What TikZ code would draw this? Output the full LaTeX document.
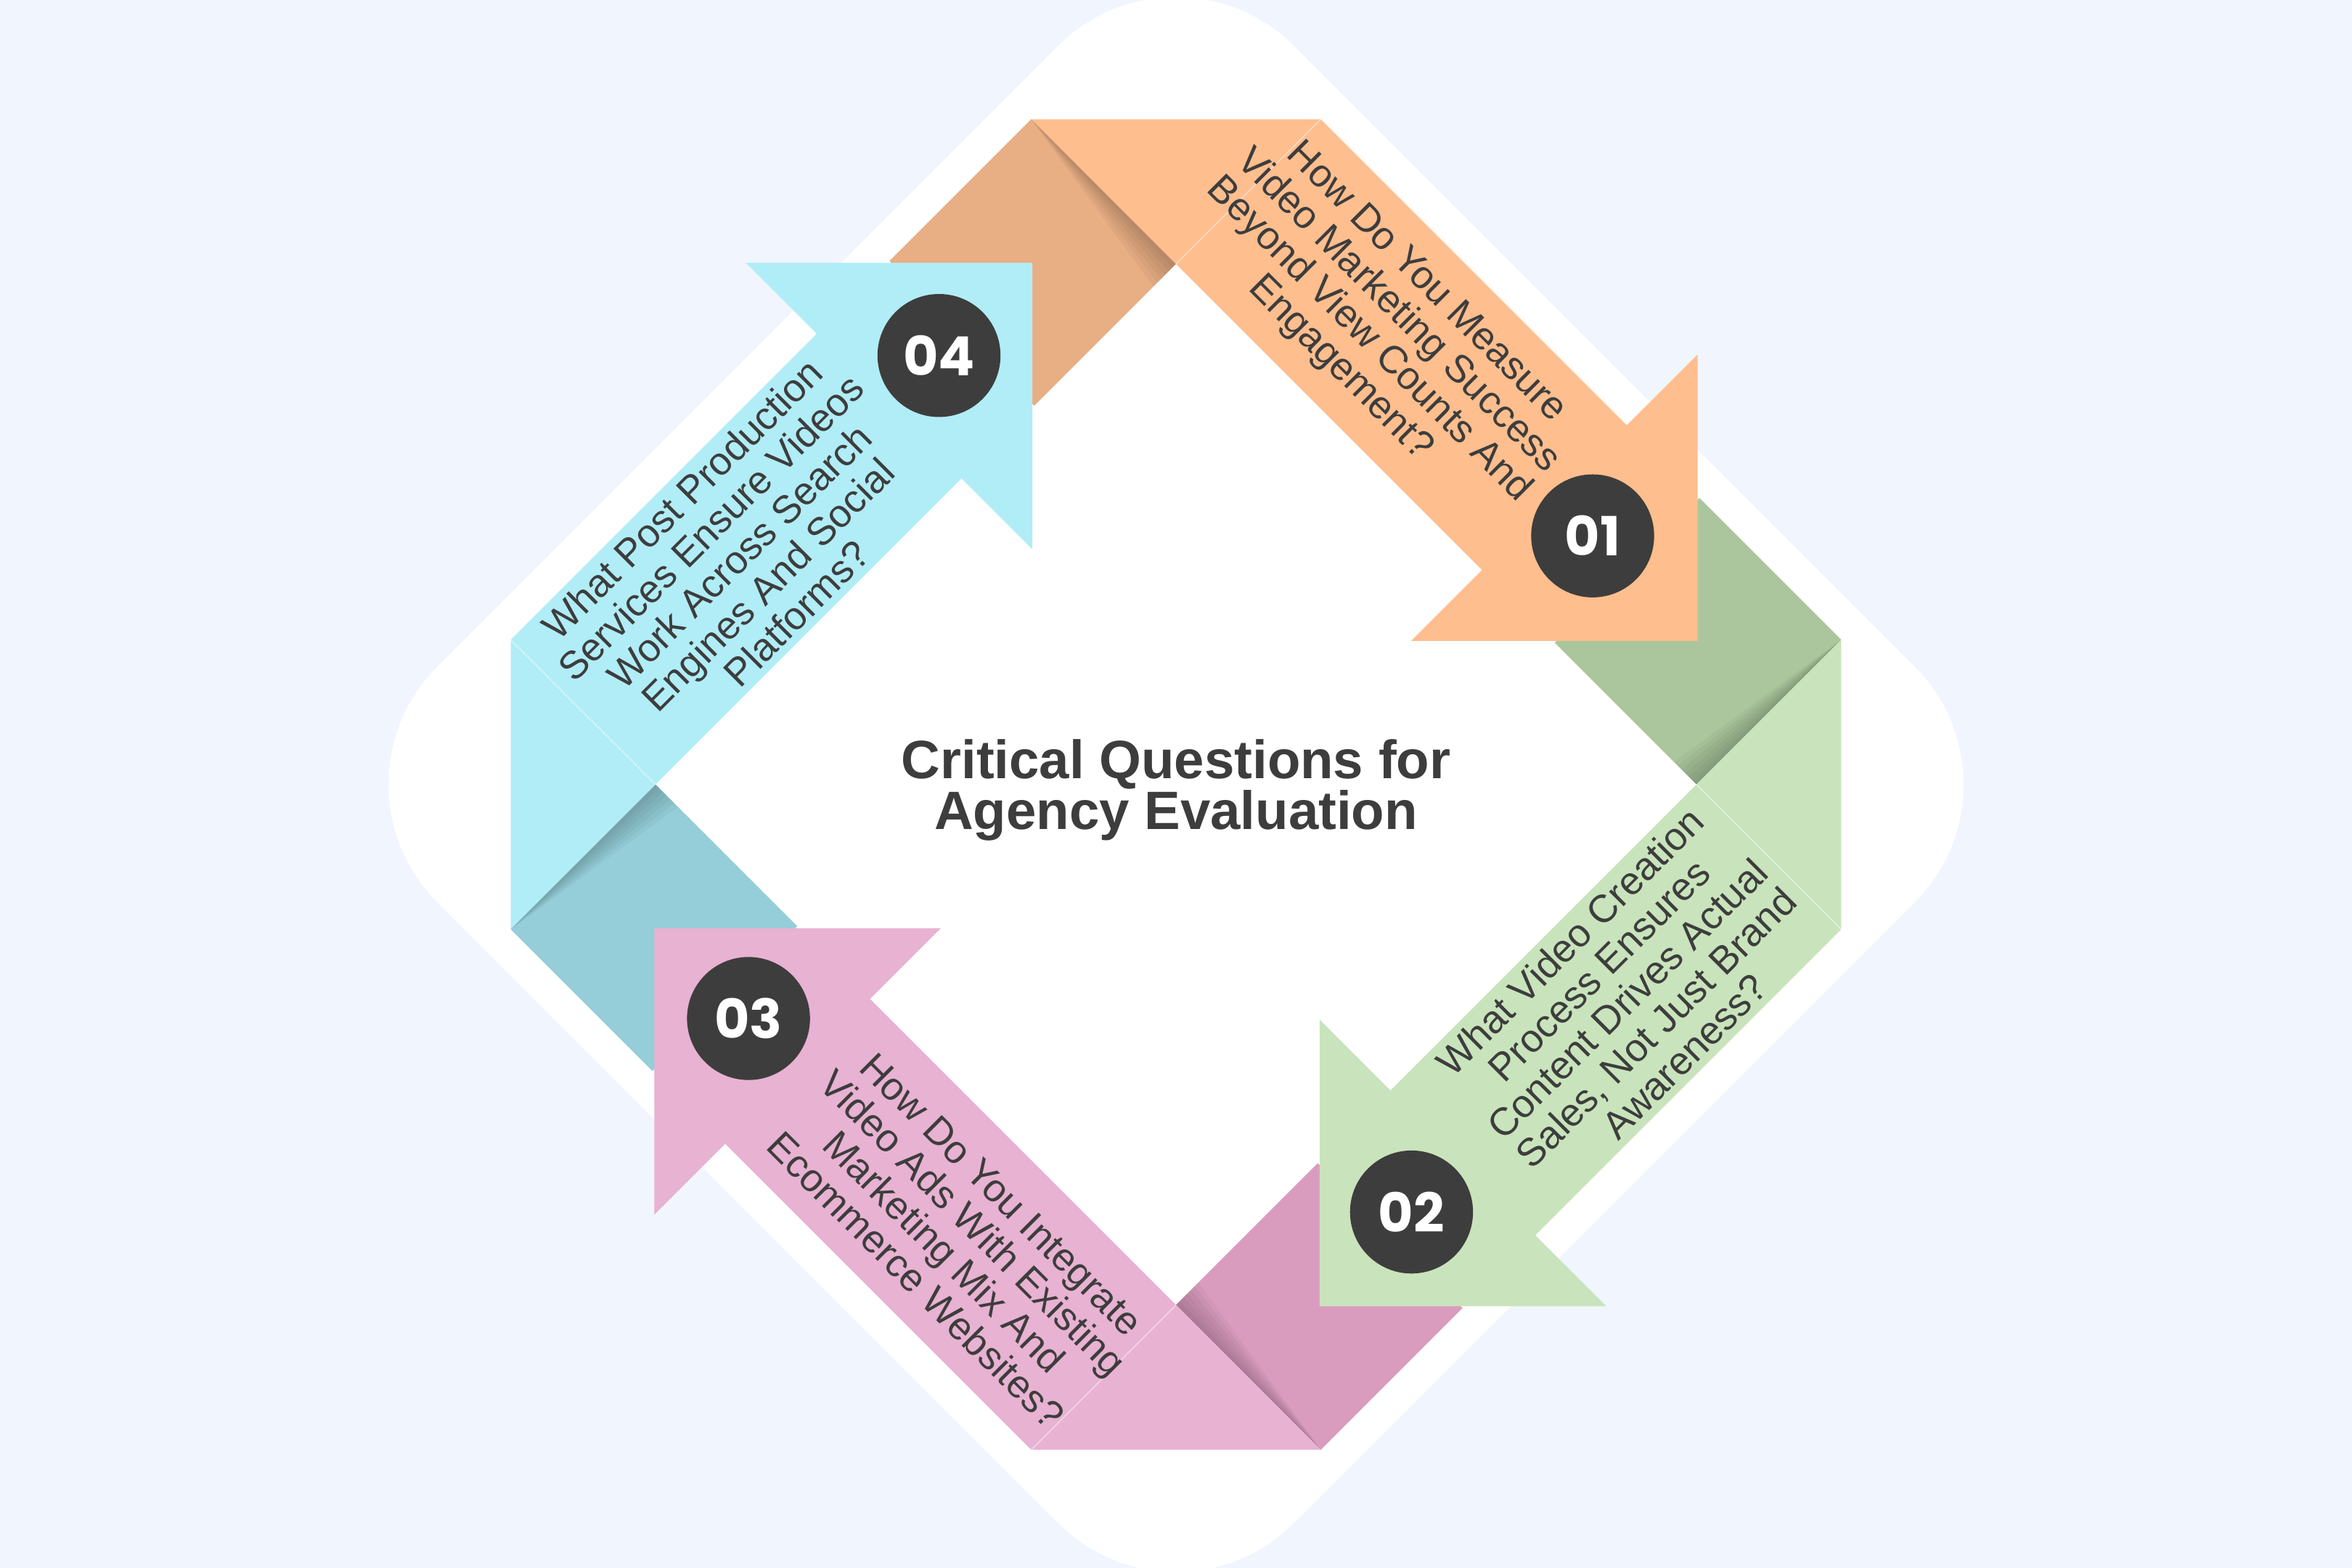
\documentclass[tikz,border=0pt]{standalone}
\usepackage{fontspec}
\setmainfont{Liberation Sans}
\newfontfamily\numfont{Poppins}
\definecolor{bg}{HTML}{F0F5FE}
\definecolor{txt}{HTML}{3D3D3D}
\definecolor{orL}{HTML}{FEBE8E}
\definecolor{orD}{HTML}{E8AE84}
\definecolor{grL}{HTML}{C9E4BC}
\definecolor{grD}{HTML}{ABC69D}
\definecolor{pkL}{HTML}{E8B2D2}
\definecolor{pkD}{HTML}{DA9CBE}
\definecolor{cyL}{HTML}{B1EDF7}
\definecolor{cyD}{HTML}{95CED9}
\tikzset{
 fOr/.style={shift={(784,523)}, x={(0.25pt,-0.25pt)}, y={(0.25pt,0.25pt)}},
 fGr/.style={shift={(784,523)}, x={(-0.25pt,-0.25pt)}, y={(0.25pt,-0.25pt)}},
 fPk/.style={shift={(784,523)}, x={(-0.25pt,0.25pt)}, y={(-0.25pt,-0.25pt)}},
 fCy/.style={shift={(784,523)}, x={(0.25pt,0.25pt)}, y={(-0.25pt,0.25pt)}},
 badge/.style={circle, fill=txt, minimum size=41pt, inner sep=0pt, text=white,
   font=\numfont\bfseries\fontsize{18}{18}\selectfont},
 qtext/.style={align=center, text=txt, inner sep=0pt,
   font=\fontsize{13}{13.5}\selectfont},
 ttext/.style={anchor=base, text=txt, inner sep=0pt,
   font=\bfseries\fontsize{18}{18}\selectfont},
}
\newcommand\foldsq[2]{%
 \begin{scope}[#1]
  \fill[#2] (-540,158) -- (-347,158) -- (-347,347) -- (-540,347) -- cycle;
  \foreach \k in {1,...,6}
   \fill[black,opacity=0.035] (-540,347) -- (-347,347) -- (-347,347-5*\k) -- cycle;
 \end{scope}}
\newcommand\ribbon[2]{%
 \begin{scope}[#1]
  \fill[#2] (-540,347) -- (-347,540) -- (61,540) -- (61,634.5) -- (252,443.5)
     -- (61,252.5) -- (61,347) -- cycle;
  \draw[white,opacity=0.45,line width=0.4pt] (-347,347) -- (-347,540);
 \end{scope}}
\begin{document}
\begin{tikzpicture}[x=0.5pt,y=-0.5pt]
\useasboundingbox (0,0) rectangle (1568,1045.33);
\fill[bg] (0,0) rectangle (1568,1045.33);
\fill[white, rounded corners=55.5pt] (498.5,237.5) -- (784,-48) -- (1355,523)
   -- (784,1094) -- (213,523) -- cycle;
% folds
\foldsq{fOr}{orD}
\foldsq{fGr}{grD}
\foldsq{fPk}{pkD}
\foldsq{fCy}{cyD}
% ribbons
\ribbon{fOr}{orL}
\ribbon{fGr}{grL}
\ribbon{fPk}{pkL}
\ribbon{fCy}{cyL}
% badges and texts
\begin{scope}[fOr]
 \node[badge] (n1) at (112,443.5) {01};
 \node[qtext, rotate=-45] (q1) at (-168,443.5) {How Do You Measure\\Video Marketing Success\\Beyond View Counts And\\Engagement?};
\end{scope}
\begin{scope}[fGr]
 \node[badge] (n2) at (128,442) {02};
 \node[qtext, rotate=45] (q2) at (-158,443.5) {What Video Creation\\Process Ensures\\Content Drives Actual\\Sales, Not Just Brand\\Awareness?};
\end{scope}
\begin{scope}[fPk]
 \node[badge] (n3) at (129,441) {03};
 \node[qtext, rotate=-45] (q3) at (-157,447) {How Do You Integrate\\Video Ads With Existing\\Marketing Mix And\\Ecommerce Websites?};
\end{scope}
\begin{scope}[fCy]
 \node[badge] (n4) at (128,444) {04};
 \node[qtext, rotate=45] (q4) at (-139,443.5) {What Post Production\\Services Ensure Videos\\Work Across Search\\Engines And Social\\Platforms?};
\end{scope}
% title
\node[ttext] (t1) at (784,519) {Critical Questions for};
\node[ttext] (t2) at (784,553) {Agency Evaluation};
\end{tikzpicture}
\end{document}
